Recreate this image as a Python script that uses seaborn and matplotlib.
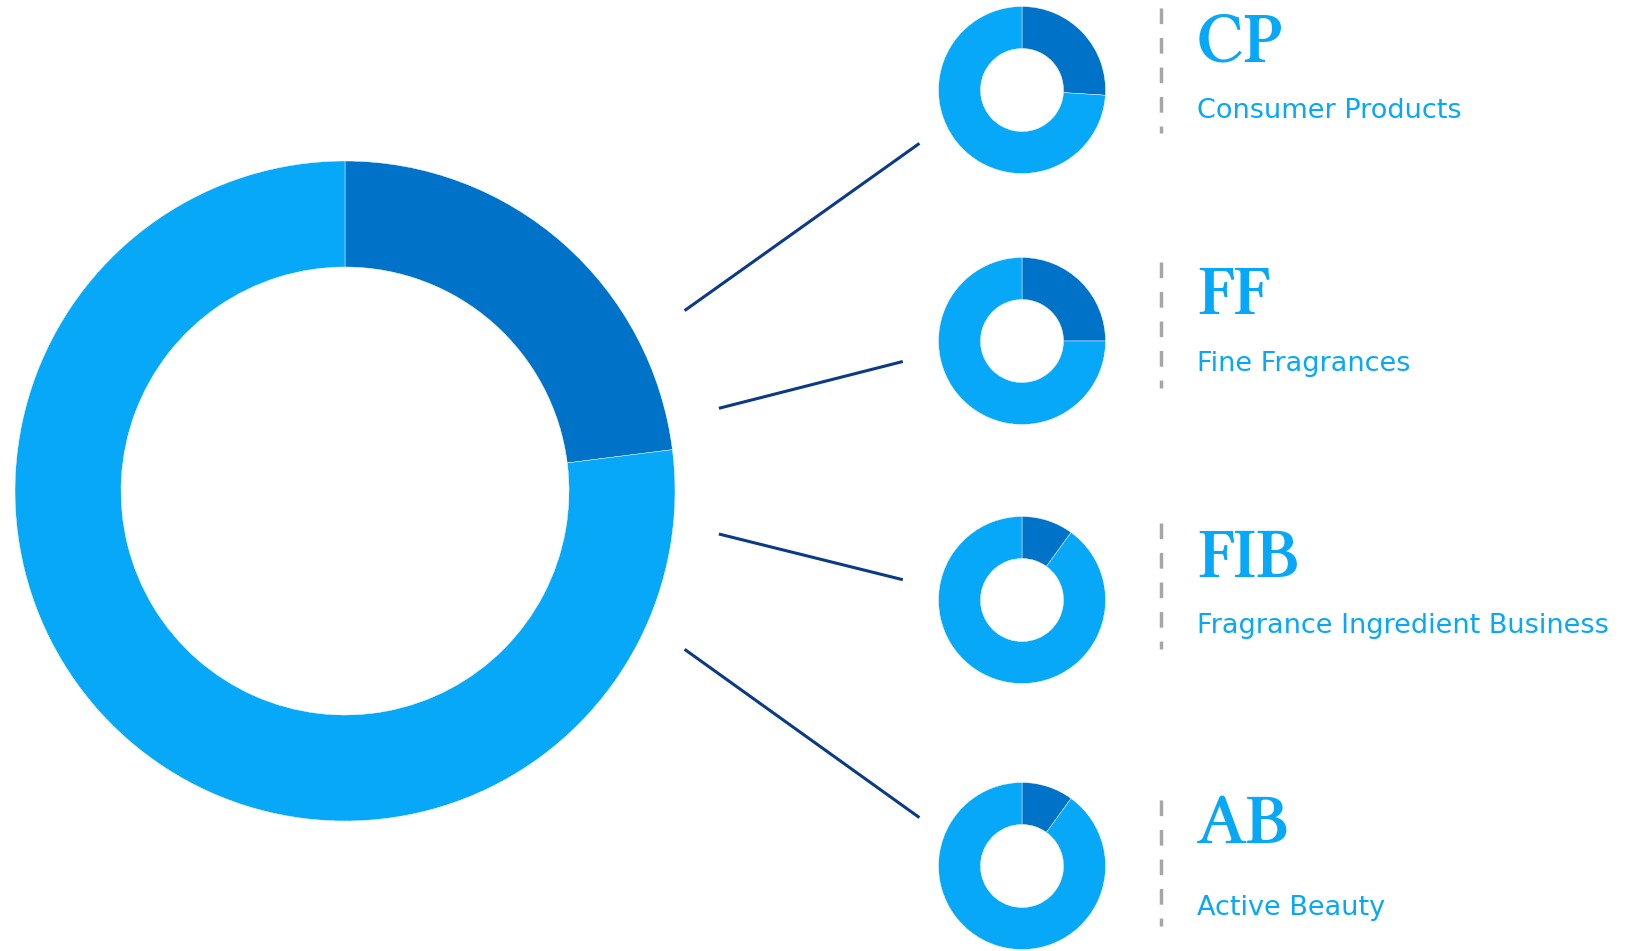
import matplotlib
matplotlib.use("Agg")
import matplotlib.pyplot as plt
import seaborn as sns

sns.set_theme(style="white")

# Share of each business line (dark) vs. remainder (light), in percent
total_share = [23, 77]
segments = ["CP", "FF", "FIB", "AB"]
segment_names = ["Consumer Products", "Fine Fragrances",
                 "Fragrance Ingredient Business", "Active Beauty"]
segment_share = [26, 25, 10, 10]

DARK = "#0073C8"
LIGHT = "#07A8F7"
NAVY = "#0B3A86"
GREY = "#A6A6A6"

W, H = 1629, 951
fig = plt.figure(figsize=(W / 100, H / 100), dpi=100)
ax = fig.add_axes([0, 0, 1, 1])


def Y(y):
    # canvas rows measured from the top
    return H - y


# Overall donut
ax.pie(total_share, colors=[DARK, LIGHT], startangle=90, counterclock=False,
       center=(345, Y(491)), radius=330, frame=True,
       wedgeprops=dict(width=330 - 224, edgecolor="white", linewidth=0.3))

small_cy = [90, 341, 600, 866]
for share, cy in zip(segment_share, small_cy):
    ax.pie([share, 100 - share], colors=[DARK, LIGHT], startangle=90,
           counterclock=False, center=(1022, Y(cy)), radius=83.5, frame=True,
           wedgeprops=dict(width=83.5 - 41.5, edgecolor="white", linewidth=0.3))

# Connectors from overall donut to segment donuts
links = [((684.6, 310.6), (919.4, 143.4)),
         ((718.9, 408.3), (902.8, 361.5)),
         ((718.9, 534.0), (902.8, 579.7)),
         ((684.6, 649.3), (919.4, 817.6))]
for (x0, y0), (x1, y1) in links:
    ax.plot([x0, x1], [Y(y0), Y(y1)], color=NAVY, lw=2.2,
            solid_capstyle="butt")

# Dashed separators and labels
dash_spans = [(8, 133), (262, 388), (523, 649), (800, 926)]
abbr_base = [61, 314, 577, 843]
name_base = [118, 371, 633, 915]
for (ya, yb), ab, nb, code, name in zip(dash_spans, abbr_base, name_base,
                                         segments, segment_names):
    ax.plot([1161.5, 1161.5], [Y(ya), Y(yb)], color=GREY, lw=2.5,
            linestyle=(0, (4.5, 4)))
    ax.text(1197, Y(ab), code, family=["Libertinus Serif", "Liberation Serif"],
            fontweight=600, fontsize=51, color=LIGHT,
            va="baseline", ha="left")
    ax.text(1197, Y(nb), name, family="DejaVu Sans", fontsize=19.5,
            color=LIGHT, va="baseline", ha="left")

ax.set_xlim(0, W)
ax.set_ylim(0, H)
ax.set_aspect("equal")
ax.axis("off")

fig.savefig("out.png", dpi=100, facecolor="white")
